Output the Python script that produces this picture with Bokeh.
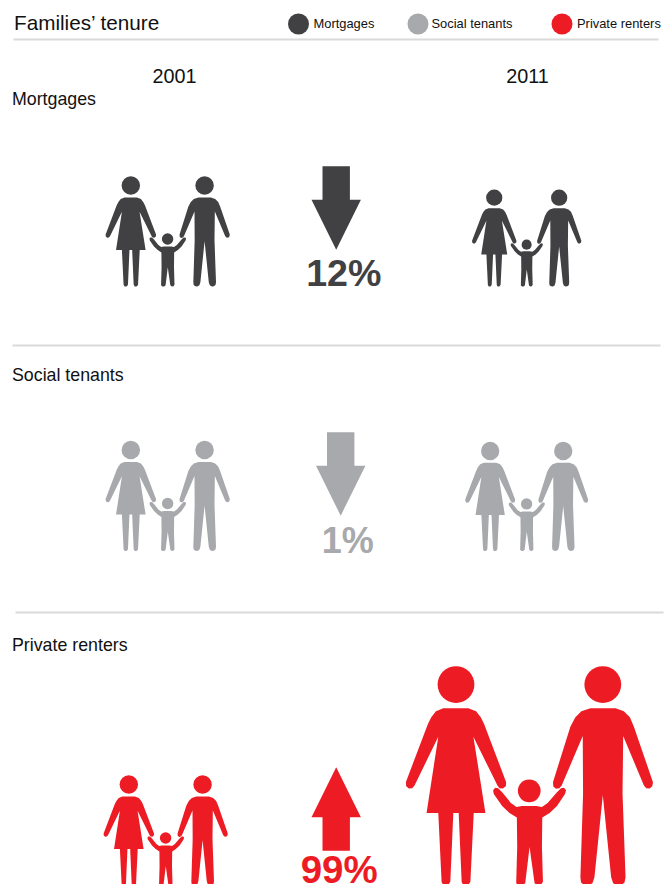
from bokeh.plotting import figure
from bokeh.embed import file_html
from bokeh.resources import INLINE
from bokeh.core.properties import value

FONT = "Liberation Sans"

tenures = ["Mortgages", "Social tenants", "Private renters"]
changes = [-12, -1, 99]
years = ["2001", "2011"]
colours = ["#414042", "#a7a9ac", "#ed1c24"]

# page layout, in pixels
family_2001_x = [167.2, 167.2, 165.2]
family_2011_x = [526.2, 526.2, 528.9]
baselines = [286, 550.5, 885]
arrow_x = [335.7, 340.2, 335.7]
arrow_top = [165.7, 431.7, 766.7]
pct_x = [343.3, 347.3, 338.7]
pct_y = [272, 539.5, 869]
pct_size = [37.6, 36, 38.5]
row_label_y = [98.5, 374.5, 644.5]
rules = [(13, 658, 39), (12, 660, 345), (15, 663, 612)]
legend_x = [298, 417.5, 561.5]
legend_label_x = [313, 431, 576.5]
FAMILY_2001_SCALE = 110.4 / 657

# pictogram outlines, one unit = 1/657 of a family's height, centred on the child
WOMAN = [(130,145),(205,145),(228,154),(242,172),(252,192),(318,366),(317,378),(308,385),(298,384),(292,376),
         (220,230),(256,458),(221,458),(211,664),(205,673),(198,675),(191,675),(185,665),(176,458),(160,458),
         (151,664),(145,673),(138,675),(131,675),(125,665),(115,458),(80,458),(115,230),(44,376),(37,384),
         (27,385),(19,378),(18,366),(84,192),(94,172),(108,154)]
MAN = [(570,145),(645,145),(670,154),(688,172),(700,200),(757,366),(755,378),(747,385),(737,384),(730,376),
       (668,228),(666,400),(675,650),(672,666),(662,674),(650,675),(638,668),(632,650),(607,405),(582,650),
       (576,668),(564,675),(552,674),(542,666),(540,650),(548,400),(547,228),(484,376),(477,384),(467,386),
       (459,379),(458,366),(510,200),(525,172),(543,154)]
CHILD = [(365,437),(408,437),(425,440),(442,428),(470,396),(482,384),(491,383),(497,390),(494,401),(470,437),
         (448,458),(426,472),(425,560),(428,664),(422,673),(412,675),(403,668),(388,560),(375,668),(366,675),
         (356,675),(348,668),(351,560),(350,472),(328,458),(306,437),(281,401),(279,390),(285,383),(294,384),
         (306,396),(332,428),(349,440)]
HEADS = [(168, 74, 55), (607, 74, 55), (387, 392, 34)]
FAMILY_CENTRE = 387.5
FAMILY_BASE = 675

p = figure(width=672, height=884, x_range=(0, 672), y_range=(884, 0),
           output_backend="svg", toolbar_location=None, min_border=0)
p.axis.visible = False
p.grid.visible = False
p.outline_line_color = None
p.background_fill_color = "white"


def draw_family(cx, base, scale, colour):
    xs, ys = [], []
    for outline in (WOMAN, MAN, CHILD):
        xs.append([cx + (a - FAMILY_CENTRE) * scale for a, _ in outline])
        ys.append([base + (b - FAMILY_BASE) * scale for _, b in outline])
    p.patches(xs, ys, fill_color=colour, line_color=None)
    p.circle([cx + (h[0] - FAMILY_CENTRE) * scale for h in HEADS],
             [base + (h[1] - FAMILY_BASE) * scale for h in HEADS],
             radius=[h[2] * scale for h in HEADS], fill_color=colour, line_color=None)


def draw_arrow(cx, top, change, colour):
    shaft, head, shaft_len, head_len = 13.7, 24.7, 33.5, 50
    total = shaft_len + head_len
    if change < 0:
        pts = [(-shaft, 0), (shaft, 0), (shaft, shaft_len), (head, shaft_len), (0, total),
               (-head, shaft_len), (-shaft, shaft_len)]
    else:
        pts = [(0, 0), (head, head_len), (shaft, head_len), (shaft, total), (-shaft, total),
               (-shaft, head_len), (-head, head_len)]
    p.patch([cx + a for a, _ in pts], [top + b for _, b in pts], fill_color=colour, line_color=None)


def label(x, y, txt, size, colour="#111111", align="left", style="normal"):
    p.text([x], [y], text=[txt], text_font=value(FONT), text_font_size=f"{size}px",
           text_font_style=style, text_color=colour, text_align=align, text_baseline="middle")


for x0, x1, y in rules:
    p.line([x0, x1], [y, y], line_color="#d9d9d9", line_width=2)

label(13.5, 21.5, "Families\u2019 tenure", 20.7)
for name, colour, cx, tx in zip(tenures, colours, legend_x, legend_label_x):
    p.circle([cx], [23.5], radius=10.5, fill_color=colour, line_color=None)
    label(tx, 22.5, name, 12.9)

label(174, 75.5, years[0], 19.8, align="center")
label(527, 75.5, years[1], 19.8, align="center")

for i, name in enumerate(tenures):
    colour = colours[i]
    label(11.5, row_label_y[i], name, 17.8)
    draw_family(family_2001_x[i], baselines[i], FAMILY_2001_SCALE, colour)
    # the 2011 family is sized from the stated percentage change
    draw_family(family_2011_x[i], baselines[i], FAMILY_2001_SCALE * (1 + changes[i] / 100), colour)
    draw_arrow(arrow_x[i], arrow_top[i], changes[i], colour)
    label(pct_x[i], pct_y[i], f"{abs(changes[i])}%", pct_size[i], colour=colour, align="center", style="bold")

open("out.html", "w").write(file_html(p, INLINE))
